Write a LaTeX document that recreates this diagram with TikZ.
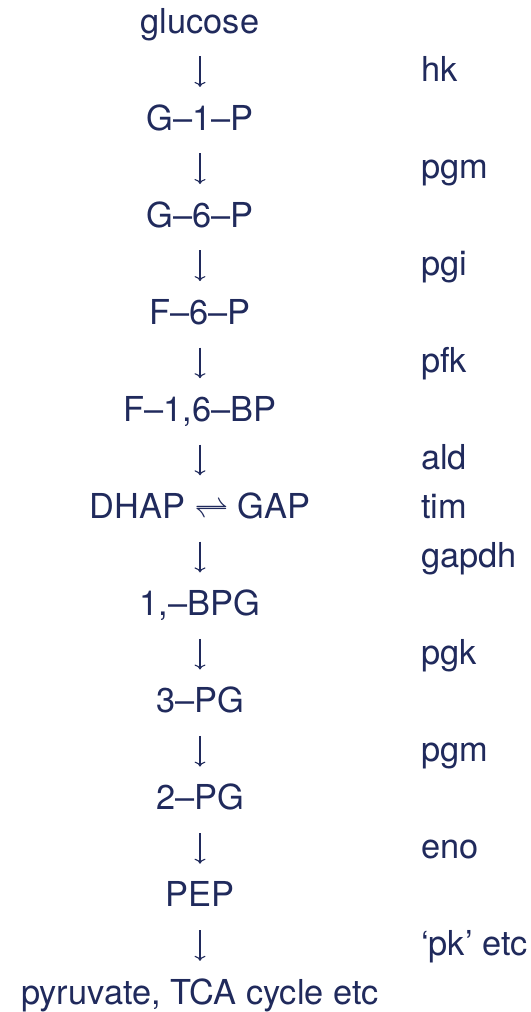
\RequirePackage{fix-cm}
\documentclass[tikz,border=0pt]{standalone}
\usepackage{fontspec}
\setmainfont{TeX Gyre Heros}
\usepackage{tikz}
\usetikzlibrary{arrows.meta}
\definecolor{navy}{HTML}{202A5C}

\begin{document}
\begin{tikzpicture}[x=1bp, y=1bp,
  every node/.style={text=navy, font=\fontsize{34.5}{41}\selectfont},
  met/.style={inner sep=0, text height=25bp, text depth=7bp, anchor=base},
  enz/.style={inner sep=0, anchor=base west},
  flow/.style={-{To[length=5bp,width=11bp]}, draw=navy, line width=1.1bp, shorten <=16bp, shorten >=18bp}]
\useasboundingbox (0,0) rectangle (531,-1012);
% metabolites
\node[met] (glc) at (200,-33) {glucose};
\node[met] (g1p) at (200,-130.1) {G--1--P};
\node[met] (g6p) at (200,-227.2) {G--6--P};
\node[met] (f6p) at (200,-324.3) {F--6--P};
\node[met] (fbp) at (200,-421.4) {F--1,6--BP};
\node[met] (gap) at (200,-518.5) {DHAP $\rightleftharpoons$ GAP};
\node[met] (bpg) at (200,-615.6) {1,--BPG};
\node[met] (pg3) at (200,-712.7) {3--PG};
\node[met] (pg2) at (200,-809.8) {2--PG};
\node[met] (pep) at (200,-906.9) {PEP};
\node[met] (pyr) at (200,-1004) {pyruvate, TCA cycle etc};
% enzymes
\node[enz] (hk) at (421,-81.55) {hk};
\node[enz] (pgm) at (421,-178.65) {pgm};
\node[enz] (pgi) at (421,-275.75) {pgi};
\node[enz] (pfk) at (421,-372.85) {pfk};
\node[enz] (ald) at (421,-469.95) {ald};
\node[enz] (tim) at (421,-518.5) {tim};
\node[enz] (gapdh) at (421,-567.05) {gapdh};
\node[enz] (pgk) at (421,-664.15) {pgk};
\node[enz] (pgmb) at (421,-761.25) {pgm};
\node[enz] (eno) at (421,-858.35) {eno};
\node[enz] (pk) at (421,-955.45) {`pk' etc};
% steps
\draw[flow] (glc) -- (g1p);
\draw[flow] (g1p) -- (g6p);
\draw[flow] (g6p) -- (f6p);
\draw[flow] (f6p) -- (fbp);
\draw[flow] (fbp) -- (gap);
\draw[flow] (gap) -- (bpg);
\draw[flow] (bpg) -- (pg3);
\draw[flow] (pg3) -- (pg2);
\draw[flow] (pg2) -- (pep);
\draw[flow] (pep) -- (pyr);
\end{tikzpicture}
\end{document}
